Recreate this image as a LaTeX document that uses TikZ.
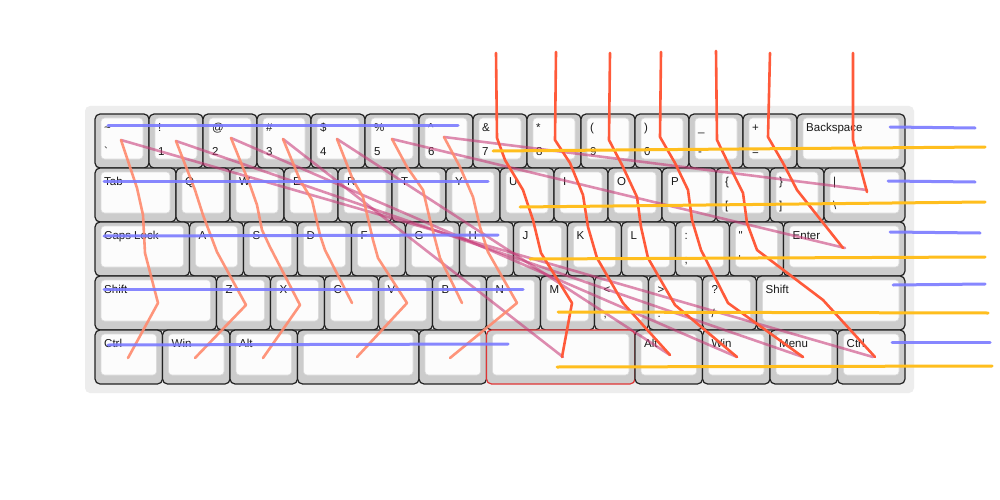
\documentclass[tikz,border=0pt]{standalone}
\usepackage{fontspec}
\newfontfamily\kf{Liberation Sans}[Ligatures=TeXOff]
\definecolor{kbbg}{HTML}{EDEDED}
\definecolor{keyg}{HTML}{CCCCCC}
\definecolor{keytop}{HTML}{FCFCFC}
\definecolor{keyedge}{HTML}{222222}
\definecolor{wblue}{HTML}{7B7BFF}
\definecolor{wyel}{HTML}{FFBE1E}
\definecolor{wsal}{HTML}{FF8A6E}
\definecolor{wred}{HTML}{FF5A3A}
\definecolor{wpink}{HTML}{C83A78}
\definecolor{redkey}{HTML}{E03535}
\tikzset{
  kout/.style={draw=keyedge, fill=keyg, line width=1.2pt, rounded corners=5pt, inner sep=0pt, outer sep=0pt},
  kin/.style={draw=keyg!70!white, fill=keytop, line width=0.6pt, rounded corners=3.5pt, inner sep=0pt},
  lbl/.style={anchor=base west, inner sep=0pt, text=black!90, font=\kf\fontsize{11.5}{12}\selectfont},
  wire/.style={line cap=round, line join=round},
  wb/.style={wire, draw=wblue, line width=3pt, opacity=0.9},
  wy/.style={wire, draw=wyel, line width=3pt},
  ws/.style={wire, draw=wsal, line width=2.6pt, opacity=0.9},
  wr/.style={wire, draw=wred, line width=2.6pt},
  wp/.style={wire, draw=wpink, line width=2.6pt, opacity=0.58},
}
% key: [outline colour], name, x0, y0, width, top legend, bottom legend
\newcommand\kk[7][keyedge]{%
  \node[kout, draw=#1, minimum width={#5*1pt}, minimum height=54pt] (#2) at ({#3+#5/2},{#4+27}) {};
  \node[kin, minimum width={#5*1pt-12pt}, minimum height=41pt] (#2-top) at ({#3+#5/2},{#4+24.5}) {};
  \node[lbl] (#2-a) at ({#3+9},{#4+17.2}) {#6};
  \node[lbl] (#2-b) at ({#3+9},{#4+41.5}) {#7};
}
\begin{document}
\begin{tikzpicture}[x=1pt,y=-1pt]
\useasboundingbox (0,0) rectangle (1000,500);
\fill[white] (0,0) rectangle (1000,500);
\node[fill=kbbg, rounded corners=5pt, minimum width=829pt, minimum height=287pt, inner sep=0pt] (board) at (499.5,249.5) {};
% row 1
\kk{kgrave}{95}{114}{54}{\textasciitilde}{`}
\kk{k1}{149}{114}{54}{!}{1}
\kk{k2}{203}{114}{54}{@}{2}
\kk{k3}{257}{114}{54}{\#}{3}
\kk{k4}{311}{114}{54}{\$}{4}
\kk{k5}{365}{114}{54}{\%}{5}
\kk{k6}{419}{114}{54}{\textasciicircum}{6}
\kk{k7}{473}{114}{54}{\&}{7}
\kk{k8}{527}{114}{54}{*}{8}
\kk{k9}{581}{114}{54}{(}{9}
\kk{k0}{635}{114}{54}{)}{0}
\kk{kminus}{689}{114}{54}{\_}{-}
\kk{kequal}{743}{114}{54}{+}{=}
\kk{kbksp}{797}{114}{108}{Backspace}{}
% row 2
\kk{ktab}{95}{168}{81}{Tab}{}
\kk{kq}{176}{168}{54}{Q}{}
\kk{kw}{230}{168}{54}{W}{}
\kk{ke}{284}{168}{54}{E}{}
\kk{kr}{338}{168}{54}{R}{}
\kk{kt}{392}{168}{54}{T}{}
\kk{ky}{446}{168}{54}{Y}{}
\kk{ku}{500}{168}{54}{U}{}
\kk{ki}{554}{168}{54}{I}{}
\kk{ko}{608}{168}{54}{O}{}
\kk{kp}{662}{168}{54}{P}{}
\kk{klbr}{716}{168}{54}{\{}{[}
\kk{krbr}{770}{168}{54}{\}}{]}
\kk{kbsl}{824}{168}{81}{|}{\textbackslash}
% row 3
\kk{kcaps}{95}{222}{94.5}{Caps Lock}{}
\kk{ka}{189.5}{222}{54}{A}{}
\kk{ks}{243.5}{222}{54}{S}{}
\kk{kd}{297.5}{222}{54}{D}{}
\kk{kf}{351.5}{222}{54}{F}{}
\kk{kg}{405.5}{222}{54}{G}{}
\kk{kh}{459.5}{222}{54}{H}{}
\kk{kj}{513.5}{222}{54}{J}{}
\kk{kk}{567.5}{222}{54}{K}{}
\kk{kl}{621.5}{222}{54}{L}{}
\kk{ksemi}{675.5}{222}{54}{:}{;}
\kk{kquote}{729.5}{222}{54}{"}{'}
\kk{kenter}{783.5}{222}{121.5}{Enter}{}
% row 4
\kk{klshift}{95}{276}{121.5}{Shift}{}
\kk{kz}{216.5}{276}{54}{Z}{}
\kk{kx}{270.5}{276}{54}{X}{}
\kk{kc}{324.5}{276}{54}{C}{}
\kk{kv}{378.5}{276}{54}{V}{}
\kk{kb}{432.5}{276}{54}{B}{}
\kk{kn}{486.5}{276}{54}{N}{}
\kk{km}{540.5}{276}{54}{M}{}
\kk{kcomma}{594.5}{276}{54}{<}{,}
\kk{kdot}{648.5}{276}{54}{>}{.}
\kk{kslash}{702.5}{276}{54}{?}{/}
\kk{krshift}{756.5}{276}{148.5}{Shift}{}
% row 5
\kk{klctrl}{95}{330}{67.5}{Ctrl}{}
\kk{klwin}{162.5}{330}{67.5}{Win}{}
\kk{klalt}{230}{330}{67.5}{Alt}{}
\kk{kspa}{297.5}{330}{121.5}{}{}
\kk{kspb}{419}{330}{67.5}{}{}
\kk[redkey]{kspc}{486.5}{330}{148.5}{}{}
\kk{kralt}{635}{330}{67.5}{Alt}{}
\kk{krwin}{702.5}{330}{67.5}{Win}{}
\kk{kmenu}{770}{330}{67.5}{Menu}{}
\kk{krctrl}{837.5}{330}{67.5}{Ctrl}{}
% pink diagonals
\draw[wp] (121,140) -- (873,357);
\draw[wp] (176,141) -- (803,357);
\draw[wp] (231,138) -- (737,357);
\draw[wp] (283,139) -- (563,357);
\draw[wp] (337,139) -- (670,355);
\draw[wp] (392,139) -- (845,248);
\draw[wp] (444,137) -- (867,190);
% salmon columns (left half)
\draw[ws] (121,140) -- (137,188) -- (143,215) -- (145,253) -- (158,303) -- (128,358);
\draw[ws] (176,141) -- (195,190) -- (203,215) -- (217,252) -- (246,305) -- (195,358);
\draw[ws] (231,138) -- (250,185) -- (257,205) -- (262,230) -- (270,247) -- (300,305) -- (263,358);
\draw[ws] (283,139) -- (300,180) -- (312,200) -- (320,235) -- (325,250) -- (352,303);
\draw[ws] (337,139) -- (353,180) -- (363,197) -- (373,240) -- (378,258) -- (407,303) -- (357,357);
\draw[ws] (392,139) -- (407,167) -- (423,190) -- (430,220) -- (440,258) -- (462,303);
\draw[ws] (444,137) -- (460,167) -- (473,197) -- (480,227) -- (488,252) -- (517,303) -- (450,358);
% red columns (right half)
\draw[wr] (496,53) -- (497,138) -- (505,160) -- (523,190) -- (533,220) -- (541,253) -- (572,303) -- (562,357);
\draw[wr] (556,52) -- (555,140) -- (570,163) -- (583,195) -- (588,227) -- (597,258) -- (623,303) -- (670,355);
\draw[wr] (610,53) -- (609,140) -- (623,167) -- (637,197) -- (641,227) -- (648,258) -- (675,305) -- (737,357);
\draw[wr] (661,52) -- (660,137) -- (675,163) -- (688,190) -- (692,220) -- (701,250) -- (728,303) -- (803,357);
\draw[wr] (716,51) -- (717,140) -- (730,167) -- (743,193) -- (747,223) -- (757,250) -- (823,300) -- (875,357);
\draw[wr] (770,53) -- (768,137) -- (783,163) -- (797,190) -- (843,248);
\draw[wr] (853,53) -- (853,140) -- (867,192);
% blue rows
\draw[wb] (108,125) -- (458,125);
\draw[wb] (104,181) -- (488,181);
\draw[wb] (104,236) -- (498,235);
\draw[wb] (104,289) -- (523,289);
\draw[wb] (108,345) -- (508,344);
\draw[wb] (890,127) -- (975,128);
\draw[wb] (888,181) -- (975,182);
\draw[wb] (890,232) -- (980,233);
\draw[wb] (893,285) -- (985,284);
\draw[wb] (892,342) -- (990,342);
% yellow rows
\draw[wy] (493,151) -- (985,147);
\draw[wy] (520,207) -- (985,202);
\draw[wy] (530,259) -- (985,257);
\draw[wy] (558,312) -- (988,313);
\draw[wy] (557,367) -- (992,366);
\end{tikzpicture}
\end{document}
